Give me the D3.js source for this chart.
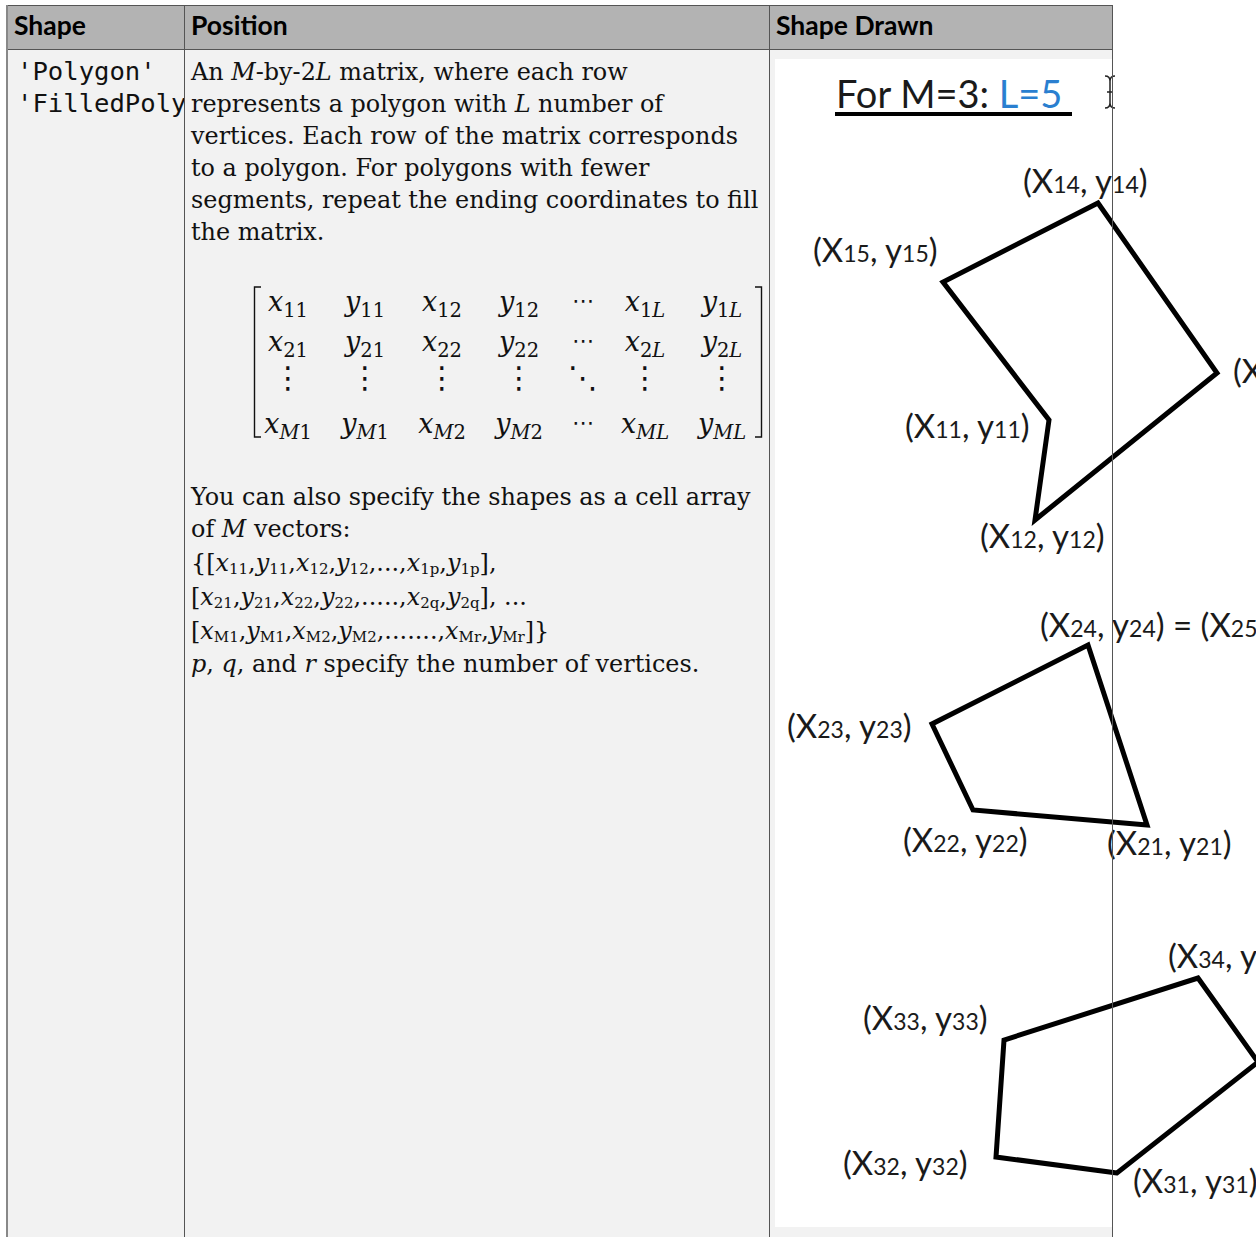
<!DOCTYPE html>
<html><head><meta charset="utf-8">
<script src="https://cdn.jsdelivr.net/npm/d3@7"></script>
<style>
html,body{margin:0;padding:0;background:#fff;overflow:hidden}
text{white-space:pre}
</style>
</head><body>
<svg id="c" width="1256" height="1237"></svg>
<script>
// ---------- DATA ----------
const headers = ["Shape", "Position", "Shape Drawn"];
const shapeNames = ["'Polygon'", "'FilledPolygon'"];
// "*" prefix = italic math token
const descLines = [
  ["An ", "*M", "-by-2", "*L", " matrix, where each row"],
  ["represents a polygon with ", "*L", " number of"],
  ["vertices. Each row of the matrix corresponds"],
  ["to a polygon. For polygons with fewer"],
  ["segments, repeat the ending coordinates to fill"],
  ["the matrix."]
];
const matrixRows = [
  ["x_11", "y_11", "x_12", "y_12", "⋯", "x_1L", "y_1L"],
  ["x_21", "y_21", "x_22", "y_22", "⋯", "x_2L", "y_2L"],
  ["⋮", "⋮", "⋮", "⋮", "⋱", "⋮", "⋮"],
  ["x_M1", "y_M1", "x_M2", "y_M2", "⋯", "x_ML", "y_ML"]
];
const cellLines = [
  ["You can also specify the shapes as a cell array"],
  ["of ", "*M", " vectors:"],
  ["{[", "x_11", ",", "y_11", ",", "x_12", ",", "y_12", ",...,", "x_1p", ",", "y_1p", "],"],
  ["[", "x_21", ",", "y_21", ",", "x_22", ",", "y_22", ",.....,", "x_2q", ",", "y_2q", "], ..."],
  ["[", "x_M1", ",", "y_M1", ",", "x_M2", ",", "y_M2", ",.......,", "x_Mr", ",", "y_Mr", "]}"],
  ["*p", ", ", "*q", ", and ", "*r", " specify the number of vertices."]
];
const figureTitle = ["For M=3: ", "L=5"];
// polygon vertices in figure-image units (x right, y down)
const polygon1 = [[274, 361], [260, 461], [442, 314], [323, 144], [168, 223]];
const polygon2 = [[372, 766], [198, 751], [157, 665], [313, 586]];
const polygon3 = [[342, 1114], [221, 1098], [229, 981], [423, 919], [483, 1003]];
// vertex labels
const labelIds = ["14", "15", "11", "12", "13", "24", "23", "22", "21", "34", "33", "32", "31"];
const labelX   = [248, 38, 130, 205, 458, 265, 12, 128, 332, 393, 88, 68, 358];
const labelY   = [134, 203, 379, 489, 324, 578, 679, 793, 796, 909, 971, 1116, 1134];
const labelSuffix = {"24": "25"};

// ---------- LAYOUT ----------
const svg = d3.select("#c");
const T = {left: 6, top: 5, headB: 49, c1: 184, c2: 769, right: 1112, bottom: 1237};
const serif = "'DejaVu Serif', serif";
const sans = "Lato, 'Open Sans', sans-serif";

svg.append("rect").attr("x", T.left).attr("y", T.top).attr("width", T.right - T.left).attr("height", T.headB - T.top).attr("fill", "#b3b3b3");
svg.append("rect").attr("x", T.left).attr("y", T.headB).attr("width", T.right - T.left).attr("height", T.bottom - T.headB).attr("fill", "#f2f2f2");

// header
const headX = [14, 191, 776];
svg.selectAll("text.head").data(headers).join("text").attr("class", "head")
  .attr("x", (d, i) => headX[i]).attr("y", 35)
  .attr("font-family", "Lato, sans-serif").attr("font-weight", 700).attr("font-size", 26.5)
  .attr("fill", "#000").text(d => d);

// column 1 (clipped)
svg.append("clipPath").attr("id", "clip1").append("rect").attr("x", T.left).attr("y", T.headB).attr("width", T.c1 - T.left + 1).attr("height", 200);
svg.append("g").attr("clip-path", "url(#clip1)").selectAll("text").data(shapeNames).join("text")
  .attr("x", 17).attr("y", (d, i) => 80 + i * 32)
  .attr("font-family", "'DejaVu Sans Mono', monospace").attr("font-size", 25.6).attr("fill", "#111")
  .text(d => d);

// rich text helper
function rich(g, x, y, tokens, o) {
  const t = g.append("text").attr("x", x).attr("y", y)
    .attr("font-family", o.family).attr("font-size", o.size).attr("fill", o.fill || "#111")
    .attr("text-anchor", o.anchor || "start");
  let cur = 0;
  const add = (s, italic, sub) => {
    const shift = sub ? o.subShift : 0;
    t.append("tspan").text(s)
      .attr("font-style", italic ? "italic" : null)
      .attr("font-size", sub ? o.subSize : null)
      .attr("dy", shift - cur);
    cur = shift;
  };
  tokens.forEach(tok => {
    if (tok.startsWith("*")) add(tok.slice(1), true, false);
    else if (tok.includes("_")) {
      const [b, s] = tok.split("_");
      add(b, true, false);
      if (o.subItalicLetters) {
        s.split("").forEach(ch => add(ch, /[A-Za-z]/.test(ch), true));
      } else add(s, false, true);
    } else add(tok, false, false);
  });
  if (cur) t.append("tspan").text("").attr("dy", -cur);
  return t;
}

const col2 = svg.append("g");
descLines.forEach((ln, i) => rich(col2, 191, 80 + i * 32, ln, {family: serif, size: 23.9}));

// matrix
const matX = [288, 365, 442, 519, 583, 645, 722];
const matY = [311, 351, 388, 433];
matrixRows.forEach((row, r) => row.forEach((cell, c) => {
  const special = !cell.includes("_");
  if (special) {
    const isDots = cell === "⋯";
    col2.append("text").attr("x", matX[c]).attr("y", matY[r] + (isDots ? -3 : 0))
      .attr("text-anchor", "middle").attr("font-family", "'DejaVu Serif', 'DejaVu Sans'")
      .attr("font-size", isDots ? 22 : 30).attr("fill", "#111").text(cell);
  } else {
    rich(col2, matX[c], matY[r], [cell], {family: serif, size: 27, subSize: 19.5, subShift: 6, anchor: "middle", subItalicLetters: true});
  }
}));
const brk = d3.path();
brk.moveTo(261, 287); brk.lineTo(254.5, 287); brk.lineTo(254.5, 437); brk.lineTo(261, 437);
brk.moveTo(755, 287); brk.lineTo(761.5, 287); brk.lineTo(761.5, 437); brk.lineTo(755, 437);
col2.append("path").attr("d", brk.toString()).attr("fill", "none").attr("stroke", "#111").attr("stroke-width", 1.4);

const cellY = [505, 537, 571, 605, 639, 672];
cellLines.forEach((ln, i) => rich(col2, 191, cellY[i], ln, {family: serif, size: 23.9, subSize: 15, subShift: 3}));

// figure image
const xI = d3.scaleLinear().domain([0, 500]).range([775, 1275]);
const yI = d3.scaleLinear().domain([0, 1168]).range([59, 1227]);
svg.append("rect").attr("x", xI(0)).attr("y", yI(0)).attr("width", xI(500) - xI(0)).attr("height", yI(1168) - yI(0)).attr("fill", "#fff");

const fig = svg.append("g");
const tt = fig.append("text").attr("x", 836).attr("y", 108)
  .attr("font-family", sans).attr("font-size", 38).attr("fill", "#1a1a1a");
tt.append("tspan").text(figureTitle[0]);
tt.append("tspan").text(figureTitle[1]).attr("fill", "#2a7fd0");
fig.append("line").attr("x1", 835).attr("x2", 1072).attr("y1", 114).attr("y2", 114).attr("stroke", "#000").attr("stroke-width", 4);
// text cursor
const cur = d3.path();
cur.moveTo(1105, 76); cur.quadraticCurveTo(1110, 76, 1110, 81); cur.lineTo(1110, 103); cur.quadraticCurveTo(1110, 108, 1105, 108);
cur.moveTo(1115, 76); cur.quadraticCurveTo(1110, 76, 1110, 81);
cur.moveTo(1115, 108); cur.quadraticCurveTo(1110, 108, 1110, 103);
cur.moveTo(1107, 92); cur.lineTo(1113, 92);
fig.append("path").attr("d", cur.toString()).attr("fill", "none").attr("stroke", "#222").attr("stroke-width", 1.5);

const line = d3.line().x(d => xI(d[0])).y(d => yI(d[1])).curve(d3.curveLinearClosed);
fig.selectAll("path.poly").data([polygon1, polygon2, polygon3]).join("path").attr("class", "poly")
  .attr("d", line).attr("fill", "none").attr("stroke", "#000").attr("stroke-width", 5).attr("stroke-linejoin", "miter");

labelIds.forEach((id, i) => {
  const t = fig.append("text").attr("x", xI(labelX[i])).attr("y", yI(labelY[i]))
    .attr("font-family", sans).attr("font-size", 33).attr("fill", "#1a1a1a");
  const pair = k => {
    t.append("tspan").text("(X");
    t.append("tspan").text(k).attr("font-size", 23);
    t.append("tspan").text(", y");
    t.append("tspan").text(k).attr("font-size", 23);
    t.append("tspan").text(")");
  };
  pair(id);
  if (labelSuffix[id]) { t.append("tspan").text(" = "); pair(labelSuffix[id]); }
});

// borders
const bl = svg.append("g").attr("stroke", "#555").attr("stroke-width", 1).attr("fill", "none");
bl.append("line").attr("x1", T.left).attr("x2", T.right + 0.5).attr("y1", T.top + 0.5).attr("y2", T.top + 0.5);
bl.append("line").attr("x1", T.left).attr("x2", T.right + 0.5).attr("y1", T.headB + 0.5).attr("y2", T.headB + 0.5);
[T.c1, T.c2, T.right].forEach(x => bl.append("line").attr("x1", x + 0.5).attr("x2", x + 0.5).attr("y1", T.top).attr("y2", T.bottom));
bl.append("line").attr("x1", T.left + 1).attr("x2", T.left + 1).attr("y1", T.top).attr("y2", T.bottom).attr("stroke", "#888").attr("stroke-width", 2);
</script>
</body></html>
